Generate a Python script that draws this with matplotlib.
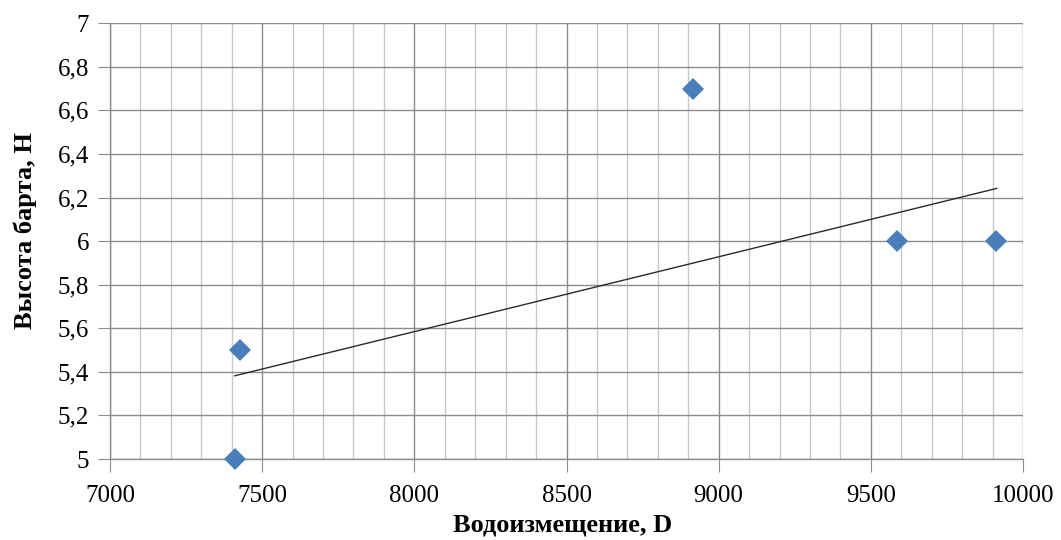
import matplotlib.pyplot as plt
from matplotlib.ticker import MultipleLocator, FuncFormatter

# Displacement D and depth H
displacement = [7410, 7427, 8917, 9587, 9912]
height = [5.0, 5.5, 6.7, 6.0, 6.0]

# trend line end points as drawn
trend_x = [7410, 9914]
trend_y = [5.382, 6.242]

plt.rcParams['font.family'] = ['Liberation Serif', 'DejaVu Serif']

fig = plt.figure(figsize=(10.61, 5.4), dpi=100)
ax = fig.add_axes([0.1037, 0.15, 0.8605, 0.807])

ax.plot(trend_x, trend_y, color='#2b2b2b', lw=1.0, zorder=3)
ax.plot(displacement, height, linestyle='none', marker='D', markersize=11.5,
        color='#4a7ebb', markeredgewidth=0, zorder=4, clip_on=False)

ax.set_xlim(7000, 10000)
ax.set_ylim(5, 7)
ax.xaxis.set_major_locator(MultipleLocator(500))
ax.xaxis.set_minor_locator(MultipleLocator(100))
ax.yaxis.set_major_locator(MultipleLocator(0.2))
ax.yaxis.set_major_formatter(FuncFormatter(lambda v, p: ('%g' % round(v, 1)).replace('.', ',')))

ax.grid(which='major', color='#8c8c8c', lw=1.0)
ax.grid(which='minor', axis='x', color='#c8c8c8', lw=1.0)
ax.set_axisbelow(True)

for s in ['top', 'right']:
    ax.spines[s].set_visible(False)
for s in ['left', 'bottom']:
    ax.spines[s].set_color('#8c8c8c')
    ax.spines[s].set_linewidth(1.0)

ax.tick_params(which='major', length=9, color='#8c8c8c', labelsize=18, pad=6)
ax.tick_params(which='minor', length=0)
ax.tick_params(axis='x', pad=10)

ax.set_xlabel('Водоизмещение, D', fontsize=19, fontweight='bold')
ax.set_ylabel('Высота барта, Н', fontsize=19, fontweight='bold')
ax.xaxis.set_label_coords(0.496, -0.124)
ax.yaxis.set_label_coords(-0.080, 0.525)

fig.savefig('out.png', dpi=100)
